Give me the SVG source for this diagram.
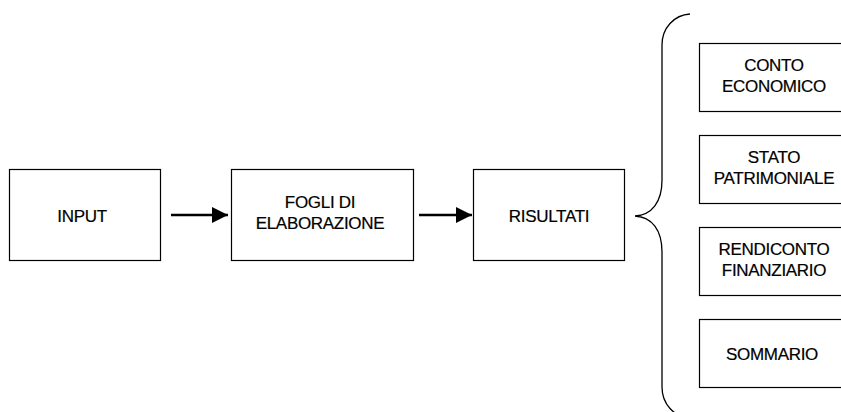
<svg xmlns="http://www.w3.org/2000/svg" width="841" height="412" viewBox="0 0 841 412">
  <style>
    .box { fill: #ffffff; stroke: #000000; stroke-width: 1.2; }
    .lbl { font-family: "Liberation Sans", Arial, sans-serif; font-size: 17px; fill: #000000; stroke: #000000; stroke-width: 0.2; text-anchor: middle; letter-spacing: -0.3px; }
    .flow { stroke: #000000; stroke-width: 2.5; fill: none; }
    .brace { stroke: #000000; stroke-width: 1.3; fill: none; }
  </style>
  <defs>
    <marker id="head" markerUnits="userSpaceOnUse" markerWidth="17" markerHeight="17" refX="16" refY="8" orient="auto">
      <path d="M0,0 L16,8 L0,16 Z" fill="#000000"/>
    </marker>
  </defs>
  <rect width="841" height="412" fill="#ffffff"/>

  <!-- process chain -->
  <g id="input">
    <rect class="box" x="9.5" y="169.5" width="151" height="91"/>
    <text class="lbl" x="82" y="222">INPUT</text>
  </g>
  <g id="fogli">
    <rect class="box" x="231.5" y="169.5" width="182" height="91"/>
    <text class="lbl" x="320" y="208">FOGLI DI</text>
    <text class="lbl" x="320" y="229">ELABORAZIONE</text>
  </g>
  <g id="risultati">
    <rect class="box" x="473.5" y="169.5" width="151" height="91"/>
    <text class="lbl" x="549" y="222">RISULTATI</text>
  </g>

  <!-- output reports (boxes run off the right edge) -->
  <g id="conto-economico">
    <rect class="box" x="699.5" y="43.5" width="150" height="68"/>
    <text class="lbl" x="774" y="71">CONTO</text>
    <text class="lbl" x="774" y="92">ECONOMICO</text>
  </g>
  <g id="stato-patrimoniale">
    <rect class="box" x="699.5" y="135.5" width="150" height="68"/>
    <text class="lbl" x="774" y="163">STATO</text>
    <text class="lbl" x="774" y="184">PATRIMONIALE</text>
  </g>
  <g id="rendiconto-finanziario">
    <rect class="box" x="699.5" y="227.5" width="150" height="68"/>
    <text class="lbl" x="774" y="255">RENDICONTO</text>
    <text class="lbl" x="774" y="276">FINANZIARIO</text>
  </g>
  <g id="sommario">
    <rect class="box" x="699.5" y="319.5" width="150" height="68"/>
    <text class="lbl" x="772" y="360">SOMMARIO</text>
  </g>

  <g id="connectors">
    <line class="flow" x1="171" y1="215" x2="228" y2="215" marker-end="url(#head)"/>
    <line class="flow" x1="419" y1="215" x2="472" y2="215" marker-end="url(#head)"/>
    <path class="brace" d="M690,14 C674,15 662,28 662,45 L662,180 C662,202 652,215 635,216 C652,217 662,230 662,252 L662,387 C662,404 674,417 690,418"/>
  </g>
</svg>
